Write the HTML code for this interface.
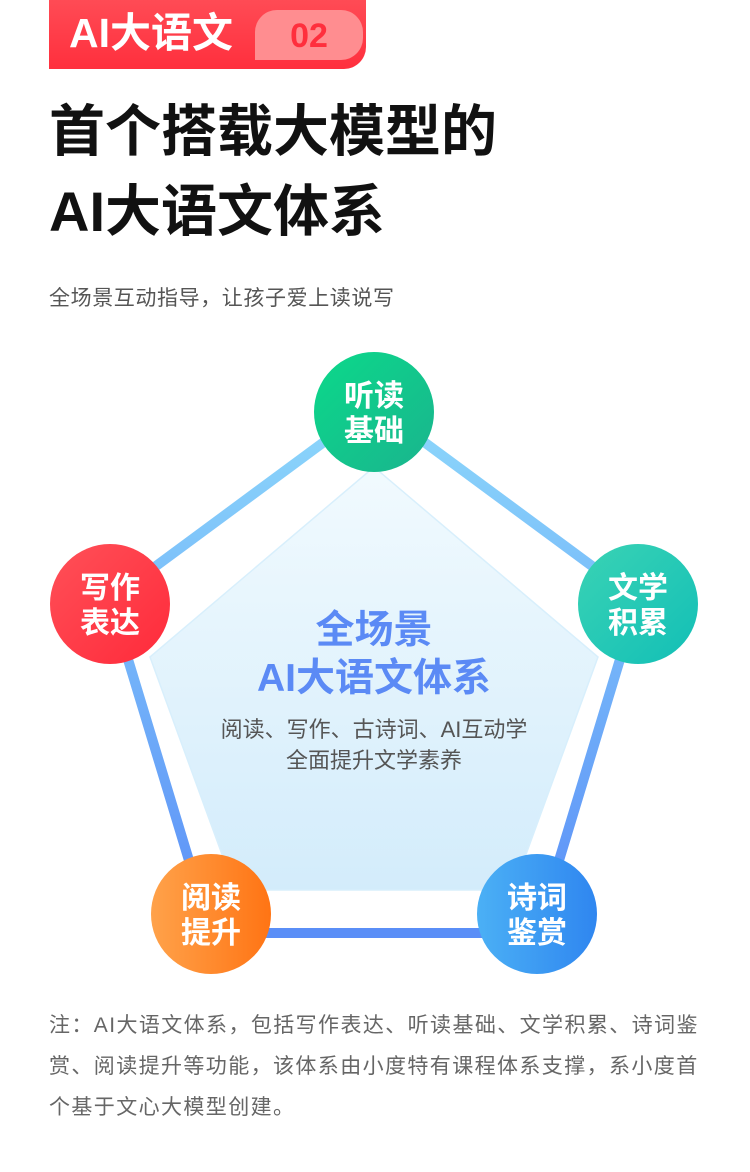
<!DOCTYPE html>
<html><head><meta charset="utf-8"><style>
body{margin:0;width:750px;height:1172px;background:#fff;position:relative;overflow:hidden;font-family:"Liberation Sans","Noto Sans CJK SC",sans-serif}
.tag{position:absolute;left:49px;top:0;width:317px;height:69px;border-radius:0 0 22px 0;background:linear-gradient(#ff4b55,#ff2f3d);}
.tag .t{position:absolute;left:20px;top:8px;color:#fff;font-size:41px;font-weight:bold;line-height:50px}
.tag .n{position:absolute;left:206px;top:10px;width:108px;height:50px;border-radius:22px 22px 22px 0;background:#ff8d90;color:#ff2f3d;font-size:34px;font-weight:bold;text-align:center;line-height:52px}
h1{position:absolute;left:49px;top:92px;margin:0;font-size:56px;line-height:80px;font-weight:bold;color:#111}
.sub{position:absolute;left:49px;top:282px;font-size:21px;letter-spacing:0.6px;color:#555}
.note{position:absolute;left:49px;top:1005px;width:700px;white-space:nowrap;font-size:21px;letter-spacing:1.4px;line-height:41px;color:#666}
</style></head><body>
<div class="tag"><div class="t">AI大语文</div><div class="n">02</div></div>
<h1>首个搭载大模型的<br>AI大语文体系</h1>
<div class="sub">全场景互动指导，让孩子爱上读说写</div>
<svg width="750" height="1172" style="position:absolute;left:0;top:0">
<defs>
<linearGradient id="ln" x1="0" y1="0" x2="0" y2="1"><stop offset="0" stop-color="#8dd8fb"/><stop offset="1" stop-color="#5a8ef7"/></linearGradient>
<linearGradient id="fi" x1="0" y1="0" x2="0" y2="1"><stop offset="0" stop-color="#f1fafe"/><stop offset="1" stop-color="#d3ecfb"/></linearGradient>
<linearGradient id="g1" x1="0" y1="0" x2="1" y2="1"><stop offset="0" stop-color="#0bd98a"/><stop offset="1" stop-color="#1ab48e"/></linearGradient>
<linearGradient id="g2" x1="0" y1="0" x2="1" y2="1"><stop offset="0" stop-color="#3ad3b4"/><stop offset="1" stop-color="#12bfb7"/></linearGradient>
<linearGradient id="g3" x1="0" y1="0" x2="1" y2="1"><stop offset="0" stop-color="#ff5058"/><stop offset="1" stop-color="#ff2a3a"/></linearGradient>
<linearGradient id="g4" x1="0" y1="0" x2="1" y2="0"><stop offset="0" stop-color="#ffa24a"/><stop offset="1" stop-color="#ff7414"/></linearGradient>
<linearGradient id="g5" x1="0" y1="0" x2="1" y2="0"><stop offset="0" stop-color="#4bb0f5"/><stop offset="1" stop-color="#2f86f0"/></linearGradient>
</defs>
<polygon points="374,405 638,600 537,933 211,933 110,600" fill="none" stroke="url(#ln)" stroke-width="10" stroke-linejoin="round"/>
<polygon points="374,467 598,657 513,890 235,890 150,657" fill="url(#fi)" stroke="#d8effc" stroke-width="1.5"/>
<circle cx="374" cy="412" r="60" fill="url(#g1)"/>
<circle cx="638" cy="604" r="60" fill="url(#g2)"/>
<circle cx="110" cy="604" r="60" fill="url(#g3)"/>
<circle cx="211" cy="914" r="60" fill="url(#g4)"/>
<circle cx="537" cy="914" r="60" fill="url(#g5)"/>
<g fill="#fff" font-size="30" font-weight="bold" text-anchor="middle" font-family="Liberation Sans,Noto Sans CJK SC,sans-serif">
<text x="374" y="406">听读</text><text x="374" y="441">基础</text>
<text x="638" y="598">文学</text><text x="638" y="633">积累</text>
<text x="110" y="598">写作</text><text x="110" y="633">表达</text>
<text x="211" y="908">阅读</text><text x="211" y="943">提升</text>
<text x="537" y="908">诗词</text><text x="537" y="943">鉴赏</text>
</g>
<g text-anchor="middle" font-family="Liberation Sans,Noto Sans CJK SC,sans-serif">
<text x="374" y="643" font-size="39" font-weight="bold" fill="#5b8af5">全场景</text>
<text x="374" y="691" font-size="39" font-weight="bold" fill="#5b8af5">AI大语文体系</text>
<text x="374" y="737" font-size="22" fill="#555">阅读、写作、古诗词、AI互动学</text>
<text x="374" y="768" font-size="22" fill="#555">全面提升文学素养</text>
</g>
</svg>
<div class="note">注：AI大语文体系，包括写作表达、听读基础、文学积累、诗词鉴<br>赏、阅读提升等功能，该体系由小度特有课程体系支撑，系小度首<br>个基于文心大模型创建。</div>
</body></html>
